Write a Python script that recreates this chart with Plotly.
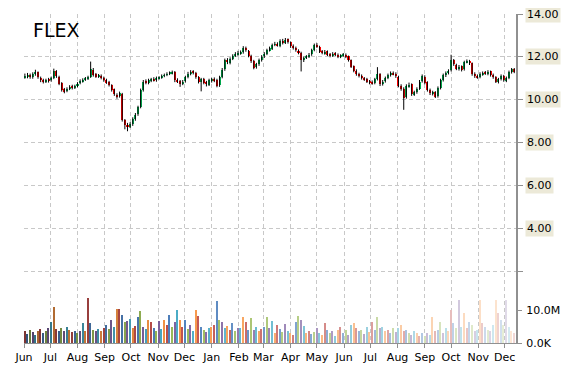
import plotly.graph_objects as go
import pandas as pd
import numpy as np

# ---- data, one candle every 3 calendar days ----
closes = [
    11.10, 11.15, 11.05, 11.20, 11.30, 11.05, 10.90, 10.85, 10.90, 10.88,            # Jun 14
    11.00, 11.35, 11.10, 10.75, 10.45, 10.40, 10.50, 10.60, 10.55, 10.62,            # Jul
    10.75, 10.88, 10.92, 10.98, 11.05, 11.45, 11.15, 11.10, 11.12, 11.00, 10.90,     # Aug
    10.80, 10.70, 10.45, 10.25, 10.15, 10.30, 9.05, 8.80, 8.75, 8.85,                # Sep
    9.10, 9.30, 9.65, 10.45, 10.85, 10.80, 10.90, 10.95, 10.92, 11.00,               # Oct
    11.02, 11.10, 11.15, 11.20, 11.25, 11.28, 10.90, 10.85, 10.72, 10.85,            # Nov
    11.05, 11.22, 11.30, 11.25, 11.05, 10.85, 10.95, 10.80, 10.72, 10.90,            # Dec
    10.95, 10.88, 10.65, 11.05, 11.40, 11.85, 11.75, 11.90, 12.05, 12.15, 12.18,     # Jan 15
    12.20, 12.40, 12.30, 12.05, 11.80, 11.50, 11.65, 11.85, 12.00,                   # Feb
    12.15, 12.30, 12.40, 12.55, 12.60, 12.55, 12.75, 12.65, 12.80, 12.70,            # Mar
    12.50, 12.40, 12.30, 12.20, 11.85, 11.95, 12.00, 12.10, 12.30, 12.55,            # Apr
    12.50, 12.25, 12.20, 12.25, 12.10, 12.05, 12.15, 12.10, 12.00, 12.05, 12.10,     # May
    12.00, 11.85, 11.55, 11.35, 11.20, 11.10, 11.00, 10.95, 10.85, 10.80,            # Jun
    10.78, 10.95, 11.20, 10.72, 10.85, 11.00, 11.15, 11.25, 11.20, 11.10,            # Jul
    10.65, 10.50, 10.10, 10.65, 10.70, 10.25, 10.35, 10.50, 10.85, 11.10,            # Aug
    10.80, 10.45, 10.30, 10.35, 10.15, 10.55, 10.90, 11.15, 11.25, 11.35,            # Sep
    11.85, 11.65, 11.45, 11.55, 11.40, 11.75, 11.80, 11.70, 11.20, 11.10, 11.05,     # Oct
    11.20, 11.25, 11.22, 11.30, 11.15, 11.05, 10.85, 10.95, 11.10, 10.90,            # Nov
    11.00, 11.30, 11.42, 11.30,                                                      # Dec
]

opens = [
    11.05, 11.08, 11.15, 11.05, 11.18, 11.28, 11.02, 10.92, 10.84, 10.95,
    10.90, 11.02, 11.32, 11.08, 10.78, 10.48, 10.42, 10.52, 10.62, 10.55,
    10.64, 10.78, 10.86, 10.95, 10.98, 11.08, 11.40, 11.18, 11.08, 11.12, 11.02,
    10.92, 10.82, 10.68, 10.48, 10.22, 10.18, 10.28, 9.05, 8.82, 8.74,
    8.86, 9.12, 9.32, 9.68, 10.45, 10.86, 10.78, 10.88, 10.98, 10.90,
    11.00, 11.04, 11.12, 11.16, 11.22, 11.24, 11.28, 10.92, 10.86, 10.74,
    10.86, 11.06, 11.20, 11.32, 11.25, 11.06, 10.86, 10.96, 10.82, 10.70,
    10.88, 10.96, 10.92, 10.68, 11.08, 11.42, 11.86, 11.72, 11.92, 12.06, 12.12,
    12.16, 12.22, 12.42, 12.28, 12.06, 11.82, 11.52, 11.66, 11.84,
    12.02, 12.14, 12.32, 12.38, 12.56, 12.62, 12.52, 12.76, 12.66, 12.82,
    12.68, 12.52, 12.42, 12.28, 12.20, 11.84, 11.96, 12.02, 12.12, 12.32,
    12.56, 12.48, 12.26, 12.18, 12.26, 12.12, 12.06, 12.16, 12.10, 12.00, 12.06,
    12.10, 12.02, 11.84, 11.56, 11.36, 11.20, 11.12, 10.98, 10.96, 10.86,
    10.82, 10.78, 10.96, 11.20, 10.72, 10.86, 11.02, 11.14, 11.26, 11.22,
    11.08, 10.66, 10.52, 10.12, 10.64, 10.72, 10.26, 10.36, 10.52, 10.86,
    11.08, 10.82, 10.46, 10.28, 10.36, 10.16, 10.56, 10.92, 11.14, 11.24,
    11.38, 11.86, 11.62, 11.44, 11.56, 11.42, 11.76, 11.82, 11.70, 11.22, 11.12,
    11.06, 11.18, 11.26, 11.20, 11.32, 11.16, 11.06, 10.84, 10.96, 11.12,
    10.88, 11.02, 11.28, 11.44,
]

highs = [
    11.22, 11.25, 11.22, 11.28, 11.40, 11.32, 11.08, 10.98, 10.98, 11.02,
    11.08, 11.45, 11.38, 11.12, 10.82, 10.55, 10.58, 10.68, 10.70, 10.70,
    10.82, 10.95, 11.00, 11.06, 11.12, 11.78, 11.48, 11.25, 11.20, 11.18, 11.08,
    10.98, 10.88, 10.72, 10.52, 10.30, 10.38, 10.32, 9.10, 8.92, 8.95,
    9.18, 9.38, 9.72, 10.52, 10.92, 10.95, 10.98, 11.02, 11.05, 11.08,
    11.10, 11.18, 11.22, 11.28, 11.32, 11.36, 11.34, 11.00, 10.92, 10.92,
    11.12, 11.30, 11.38, 11.38, 11.30, 11.10, 11.02, 11.02, 10.88, 10.98,
    11.02, 11.04, 10.98, 11.12, 11.48, 11.92, 11.94, 11.98, 12.12, 12.22, 12.28,
    12.30, 12.50, 12.48, 12.32, 12.10, 11.86, 11.72, 11.92, 12.08,
    12.22, 12.38, 12.48, 12.62, 12.70, 12.68, 12.82, 12.84, 12.88, 12.86,
    12.72, 12.58, 12.48, 12.35, 12.24, 12.02, 12.08, 12.18, 12.38, 12.62,
    12.64, 12.52, 12.32, 12.32, 12.30, 12.18, 12.22, 12.22, 12.16, 12.12, 12.18,
    12.16, 12.06, 11.88, 11.60, 11.42, 11.26, 11.18, 11.06, 11.02, 10.92,
    10.90, 11.02, 11.52, 11.24, 10.92, 11.08, 11.22, 11.32, 11.32, 11.28,
    11.12, 10.72, 10.58, 10.72, 10.80, 10.76, 10.42, 10.58, 10.92, 11.18,
    11.14, 10.86, 10.52, 10.42, 10.40, 10.62, 10.98, 11.22, 11.32, 11.42,
    12.10, 11.90, 11.68, 11.62, 11.60, 11.82, 11.88, 11.86, 11.74, 11.28, 11.18,
    11.28, 11.32, 11.34, 11.38, 11.36, 11.22, 11.10, 11.02, 11.18, 11.16,
    11.08, 11.36, 11.48, 11.48,
]

lows = [
    10.98, 11.00, 10.98, 10.98, 11.12, 10.98, 10.82, 10.76, 10.78, 10.80,
    10.84, 10.96, 11.02, 10.68, 10.38, 10.30, 10.35, 10.45, 10.48, 10.50,
    10.58, 10.72, 10.80, 10.88, 10.92, 11.02, 11.08, 11.02, 11.02, 10.95, 10.84,
    10.74, 10.62, 10.38, 10.18, 10.05, 10.10, 8.98, 8.62, 8.53, 8.68,
    8.78, 9.02, 9.25, 9.60, 10.38, 10.72, 10.72, 10.82, 10.85, 10.84,
    10.94, 10.98, 11.05, 11.10, 11.15, 11.18, 10.82, 10.78, 10.60, 10.68,
    10.80, 11.00, 11.14, 11.18, 10.98, 10.76, 10.39, 10.72, 10.62, 10.64,
    10.80, 10.82, 10.58, 10.60, 11.00, 11.35, 11.66, 11.65, 11.85, 12.00, 12.05,
    12.10, 12.15, 12.24, 11.98, 11.72, 11.42, 11.45, 11.58, 11.78,
    11.95, 12.08, 12.25, 12.32, 12.50, 12.48, 12.45, 12.58, 12.60, 12.62,
    12.42, 12.34, 12.24, 12.12, 11.32, 11.76, 11.90, 11.95, 12.05, 12.26,
    12.42, 12.18, 12.12, 12.10, 12.04, 11.98, 12.00, 12.04, 11.94, 11.94, 12.00,
    11.94, 11.78, 11.48, 11.28, 11.12, 11.04, 10.94, 10.88, 10.78, 10.72,
    10.70, 10.72, 10.90, 10.64, 10.66, 10.80, 10.96, 11.08, 11.14, 11.02,
    10.58, 10.42, 9.53, 10.05, 10.56, 10.18, 10.18, 10.28, 10.46, 10.80,
    10.72, 10.38, 10.22, 10.20, 10.08, 10.10, 10.48, 10.85, 11.06, 11.18,
    11.32, 11.58, 11.38, 11.36, 11.32, 11.36, 11.70, 11.62, 11.12, 11.02, 10.98,
    11.00, 11.12, 11.16, 11.14, 11.08, 10.98, 10.78, 10.76, 10.90, 10.84,
    10.82, 10.96, 11.22, 11.24,
]

volumes_m = [
    3.5, 2.8, 4.0, 3.2, 2.5, 3.8, 4.2, 3.0, 3.5, 4.5,
    6.5, 10.8, 4.2, 3.8, 4.5, 3.5, 4.8, 4.0, 3.2, 3.5,
    3.0, 3.8, 6.0, 3.5, 13.8, 6.0, 4.0, 3.6, 4.2, 3.5, 4.5,
    5.5, 4.2, 7.0, 5.0, 10.3, 10.2, 8.6, 6.5, 6.8, 7.2,
    4.5, 5.2, 7.8, 9.6, 5.0, 4.2, 6.9, 6.5, 4.5, 3.8,
    6.6, 4.2, 7.0, 5.5, 8.4, 4.8, 6.5, 9.9, 7.0, 5.0,
    7.0, 4.3, 5.5, 3.5, 9.9, 8.3, 5.0, 4.0, 3.2, 4.5,
    4.8, 5.5, 12.8, 7.0, 6.5, 4.5, 5.2, 4.0, 6.2, 3.8, 4.5,
    4.5, 7.9, 6.3, 4.0, 7.6, 4.0, 5.0, 3.5, 4.2,
    5.0, 7.9, 4.5, 6.8, 3.0, 5.5, 4.2, 3.2, 5.8, 3.5,
    3.0, 2.5, 6.5, 8.2, 7.0, 5.2, 3.0, 3.5, 2.8, 3.2,
    4.5, 3.0, 2.5, 6.0, 4.0, 3.0, 3.5, 2.2, 4.0, 5.0, 3.0,
    4.0, 2.5, 5.5, 6.2, 4.5, 3.5, 4.0, 2.8, 5.0, 3.2,
    6.5, 4.0, 8.0, 4.5, 5.0, 3.5, 4.0, 3.0, 4.5, 3.2,
    4.5, 5.5, 3.5, 4.0, 3.0, 2.5, 3.5, 3.0, 2.2, 3.0,
    2.0, 3.0, 2.5, 8.0, 3.5, 4.0, 6.5, 3.0, 4.5, 3.8,
    10.0, 6.0, 4.5, 13.2, 5.0, 9.0, 4.5, 6.5, 5.5, 3.5, 4.0,
    13.2, 6.0, 5.0, 4.0, 3.5, 5.5, 13.2, 9.0, 7.0, 5.5,
    13.2, 5.0, 3.5, 3.0,
]

price_ticks = [2, 4, 6, 8, 10, 12, 14]
price_labels = ["", "4.00", "6.00", "8.00", "10.00", "12.00", "14.00"]
vol_ticks = [0, 10e6]
vol_labels = ["0.0K", "10.0M"]
palette = ["#C0504D", "#4F81BD", "#9BBB59", "#8064A2", "#4BACC6", "#F79646"]
symbol = "FLEX"

n = min(len(closes), len(opens), len(highs), len(lows), len(volumes_m))
closes, opens, highs, lows, volumes_m = (a[:n] for a in (closes, opens, highs, lows, volumes_m))
dates = pd.date_range("2014-06-02", periods=n, freq="3D")
volumes = [v * 1e6 for v in volumes_m]


def shade(hexcol, t):
    r, g, b = int(hexcol[1:3], 16), int(hexcol[3:5], 16), int(hexcol[5:7], 16)
    if t < 0:
        f = 1 + t
        r, g, b = r * f, g * f, b * f
    else:
        r, g, b = r + (255 - r) * t, g + (255 - g) * t, b + (255 - b) * t
    return "rgb(%d,%d,%d)" % (r, g, b)


shades = np.linspace(-0.35, 0.78, n)
bar_colors = [shade(palette[i % len(palette)], shades[i]) for i in range(n)]

# wick segments (black) and candle bodies (green up / red down)
wx, wy = [], []
for d, lo, hi in zip(dates, lows, highs):
    wx += [d, d, None]
    wy += [lo, hi, None]
body_base = [min(o, c) for o, c in zip(opens, closes)]
body_len = [max(abs(c - o), 0.03) for o, c in zip(opens, closes)]
body_col = ["#00B050" if c >= o else "#FF0000" for o, c in zip(opens, closes)]

FONT = "DejaVu Sans"
GRID = "#C8C8C8"
AXC = "#909090"
DAY = 86400000

fig = go.Figure()
fig.add_trace(go.Bar(x=dates, y=volumes, yaxis="y2", marker=dict(color=bar_colors, line_width=0),
                     width=1.7 * DAY, hoverinfo="skip"))
fig.add_trace(go.Scatter(x=wx, y=wy, mode="lines", line=dict(color="black", width=1), hoverinfo="skip"))
fig.add_trace(go.Bar(x=dates, y=body_len, base=body_base, yaxis="y",
                     marker=dict(color=body_col, line_width=0), width=2.3 * DAY,
                     customdata=np.stack([opens, highs, lows, closes], axis=-1),
                     hovertemplate="O %{customdata[0]}<br>H %{customdata[1]}<br>L %{customdata[2]}<br>C %{customdata[3]}<extra></extra>"))

annotations = [dict(text=symbol, xref="paper", yref="paper", x=0.014, y=0.952, xanchor="left",
                    yanchor="middle", showarrow=False, font=dict(family=FONT, size=19, color="black"))]
for v, lab in zip(price_ticks, price_labels):
    if lab:
        annotations.append(dict(text=lab, xref="paper", yref="y", x=1, y=v, xanchor="left", yanchor="middle",
                                xshift=9, showarrow=False, bgcolor="#ECE9D8", borderpad=1,
                                font=dict(family=FONT, size=11, color="black")))

# page body keeps an 8px margin, so the figure is 8px smaller on each axis
fig.update_layout(
    width=562, height=362,
    margin=dict(l=14, r=54, t=6, b=26),
    plot_bgcolor="white", paper_bgcolor="white",
    showlegend=False, barmode="overlay", bargap=0,
    annotations=annotations,
    xaxis=dict(
        type="date", range=["2014-06-01", "2015-12-14"],
        tick0="2014-06-01", dtick="M1", tickformat="%b",
        showgrid=True, gridcolor=GRID, griddash="4px,3px", gridwidth=1,
        showline=True, linecolor=AXC, linewidth=1,
        ticks="outside", ticklen=4, tickcolor=AXC,
        tickfont=dict(family=FONT, size=11, color="black"),
        rangeslider=dict(visible=False), zeroline=False,
    ),
    yaxis=dict(
        side="right", range=[-1.35, 14], tickvals=price_ticks, showticklabels=False,
        showgrid=True, gridcolor=GRID, griddash="4px,3px", gridwidth=1,
        showline=True, linecolor=AXC, linewidth=1.5,
        ticks="outside", ticklen=5, tickcolor=AXC, zeroline=False,
    ),
    yaxis2=dict(
        overlaying="y", side="right", range=[0, 100e6], tickvals=vol_ticks, ticktext=vol_labels,
        showgrid=False, zeroline=False, showline=False,
        ticks="outside", ticklen=5, tickcolor=AXC, ticklabelstandoff=2,
        tickfont=dict(family=FONT, size=11, color="black"),
    ),
)

fig.write_html("out.html")
